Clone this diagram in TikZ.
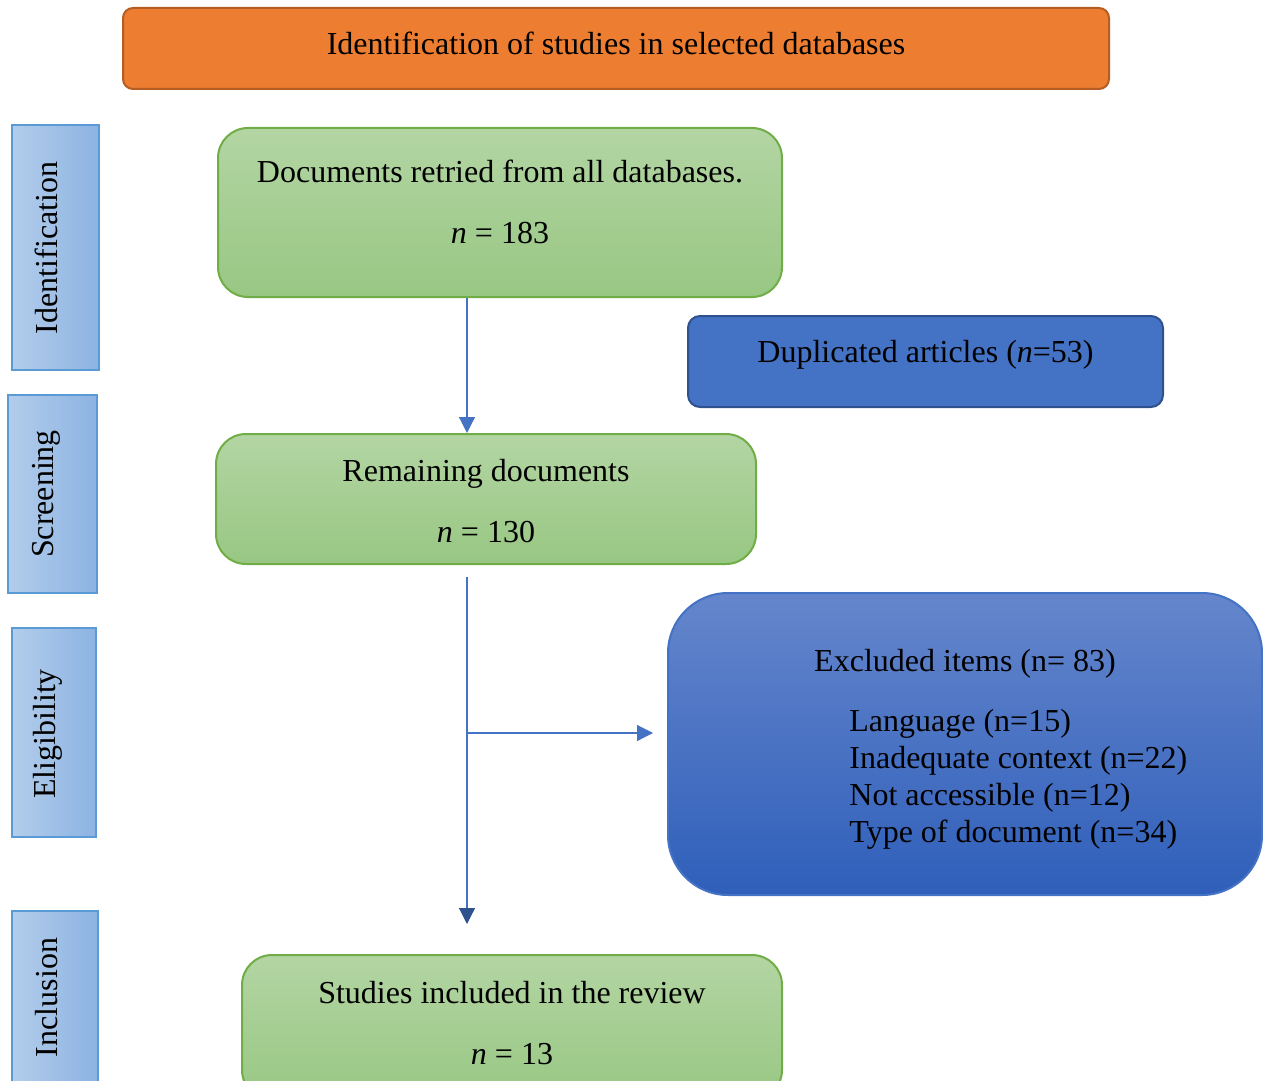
\documentclass[tikz,border=0pt]{standalone}
\usepackage{fontspec}
\setmainfont{Liberation Serif}
\usetikzlibrary{arrows.meta,calc}
\definecolor{orF}{HTML}{ED7D31}
\definecolor{orB}{HTML}{B55D22}
\definecolor{sdL}{HTML}{B3CDEB}
\definecolor{sdR}{HTML}{8CB3E2}
\definecolor{sdB}{HTML}{5B9BD5}
\definecolor{gnT}{HTML}{B3D5A3}
\definecolor{gnBt}{HTML}{98C783}
\definecolor{gnB}{HTML}{70AD47}
\definecolor{dpF}{HTML}{4472C4}
\definecolor{dpB}{HTML}{2F528F}
\definecolor{exT}{HTML}{6586CC}
\definecolor{exBt}{HTML}{2F5FBA}
\definecolor{exB}{HTML}{4472C4}
\definecolor{arB}{HTML}{4472C4}
\definecolor{arD}{HTML}{2F528F}
\begin{document}
\begin{tikzpicture}[x=0.5pt,y=-0.5pt,
  titlebox/.style={draw=orB, line width=1pt, fill=orF, rounded corners=5pt, inner sep=0pt},
  sidebox/.style={draw=sdB, line width=1pt, left color=sdL, right color=sdR, inner sep=0pt},
  greenbox/.style={draw=gnB, line width=1pt, top color=gnT, bottom color=gnBt, rounded corners=15pt, inner sep=0pt},
  dupbox/.style={draw=dpB, line width=1pt, fill=dpF, rounded corners=6pt, inner sep=0pt},
  exbox/.style={draw=exB, line width=1pt, top color=exT, bottom color=exBt, rounded corners=30pt, inner sep=0pt},
  txt/.style={font=\fontsize{16}{19}\selectfont, anchor=base, inner sep=0pt},
  txtl/.style={font=\fontsize{16}{19}\selectfont, anchor=base west, inner sep=0pt},
  sidetxt/.style={font=\fontsize{16}{19}\selectfont, anchor=base, rotate=90, inner sep=0pt},
  arr/.style={draw=arB, line width=0.6pt, -{Triangle[width=8pt,length=8pt]}},
  arrd/.style={draw=arB, line width=0.6pt, -{Triangle[width=8pt,length=8pt,color=arD]}}
]
\useasboundingbox (0,0) rectangle (1263,1081);

% title
\node[titlebox, minimum width=493pt, minimum height=40.5pt] (title) at (616,48.5) {};
\node[txt] (titletxt) at (616,55) {Identification of studies in selected databases};

% side labels
\node[sidebox, minimum width=43.5pt, minimum height=122.5pt] (sI) at (55.5,247.5) {};
\node[sidetxt] (sIt) at (57,248) {Identification};
\node[sidebox, minimum width=44.5pt, minimum height=99pt] (sS) at (52.5,494) {};
\node[sidetxt] (sSt) at (53,494) {Screening};
\node[sidebox, minimum width=42pt, minimum height=104.5pt] (sE) at (54,732.5) {};
\node[sidetxt] (sEt) at (55,734) {Eligibility};
\node[sidebox, minimum width=43pt, minimum height=90pt] (sN) at (55,1001) {};
\node[sidetxt] (sNt) at (57,997.5) {Inclusion};

% green boxes
\node[greenbox, minimum width=282pt, minimum height=84.5pt] (g1) at (500,212.5) {};
\node[txt] (g1a) at (500,183) {Documents retried from all databases.};
\node[txt] (g1b) at (500,243) {\textit{n} = 183};

\node[greenbox, minimum width=270pt, minimum height=65pt] (g2) at (486,499) {};
\node[txt] (g2a) at (486,481) {Remaining documents};
\node[txt] (g2b) at (486,542) {\textit{n} = 130};

\node[greenbox, minimum width=270pt, minimum height=72.5pt] (g3) at (512,1027.5) {};
\node[txt] (g3a) at (512,1003) {Studies included in the review};
\node[txt] (g3b) at (512,1064) {\textit{n} = 13};

% duplicated
\node[dupbox, minimum width=237.5pt, minimum height=45.5pt] (dup) at (925.5,361.5) {};
\node[txt] (dupt) at (925.5,362) {Duplicated articles (\textit{n}=53)};

% excluded
\node[exbox, minimum width=297pt, minimum height=151pt] (ex) at (965,744) {};
\node[txt] (ext) at (965,671) {Excluded items (n= 83)};
\node[txtl] (ex1) at (849,731) {Language (n=15)};
\node[txtl] (ex2) at (849,768) {Inadequate context (n=22)};
\node[txtl] (ex3) at (849,805) {Not accessible (n=12)};
\node[txtl] (ex4) at (849,842) {Type of document (n=34)};

% connectors
\coordinate (ax) at (467,0);
\draw[arr] (g1.south -| ax) -- (g2.north -| ax);
\coordinate (s2) at ($(g2.south -| ax)+(0,12)$);
\coordinate (e2) at ($(g3.north -| ax)+(0,-30)$);
\draw[arrd] (s2) -- (e2);
\coordinate (br) at (467,733);
\draw[arr] (br) -- ($(br -| ex.west)+(-14,0)$);
\end{tikzpicture}
\end{document}
